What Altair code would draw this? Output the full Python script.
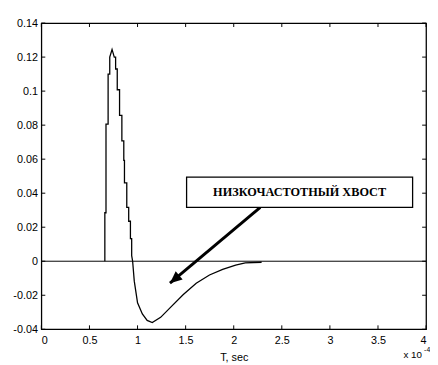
import altair as alt
import pandas as pd

# ---- data (time in units of 1e-4 s) ----
t_vals = [0.660, 0.660, 0.672, 0.672, 0.694, 0.694, 0.711, 0.711, 0.735, 0.758,
          0.772, 0.772, 0.789, 0.789, 0.813, 0.813, 0.837, 0.837, 0.857, 0.857,
          0.864, 0.864, 0.888, 0.888, 0.908, 0.908, 0.926, 0.926, 0.939, 0.939,
          0.949, 0.966, 1.000, 1.050, 1.100, 1.153, 1.240, 1.340, 1.476, 1.610,
          1.748, 1.885, 2.020, 2.120, 2.290]
s_vals = [0.0, 0.0285, 0.0285, 0.0806, 0.0806, 0.110, 0.110, 0.120, 0.1245, 0.120,
          0.120, 0.113, 0.113, 0.1008, 0.1008, 0.0858, 0.0858, 0.0708, 0.0708, 0.0593,
          0.0593, 0.046, 0.046, 0.0316, 0.0316, 0.0235, 0.0235, 0.0133, 0.0133, 0.0033,
          0.0, -0.0117, -0.0244, -0.031, -0.0348, -0.036, -0.033, -0.0273, -0.0196, -0.0129,
          -0.0081, -0.0048, -0.0023, -0.0010, -0.0006]

x_ticks = [0, 0.5, 1, 1.5, 2, 2.5, 3, 3.5, 4]
y_ticks = [-0.04, -0.02, 0, 0.02, 0.04, 0.06, 0.08, 0.1, 0.12, 0.14]

box_x = [1.51, 3.86]
box_y = [0.0316, 0.0495]
box_label = "НИЗКОЧАСТОТНЫЙ ХВОСТ"
arrow_from = [2.276, 0.0316]
arrow_to = [1.337, -0.0129]

x_title = "T, sec"
exp_base = "x 10"
exp_power = "-4"

W, H = 392, 312
FONT = "Liberation Sans"

xs = alt.Scale(domain=[0, 4], nice=False, zero=False)
ys = alt.Scale(domain=[-0.04, 0.14], nice=False, zero=False)

lbl = "replace(format(datum.value, '~g'), '\u2212', '-')"
x_axis = alt.Axis(values=x_ticks, title=x_title, ticks=False, domain=False, grid=False,
                  labelPadding=6, titlePadding=6, labelExpr=lbl)
y_axis = alt.Axis(values=y_ticks, title=None, ticks=False, domain=False, grid=False,
                  labelPadding=4, labelExpr=lbl)

curve_df = pd.DataFrame({"t": t_vals, "s": s_vals, "i": list(range(len(t_vals)))})
xt_df = pd.DataFrame({"v": x_ticks})
yt_df = pd.DataFrame({"v": y_ticks})

curve = alt.Chart(curve_df).mark_line(color="black", strokeWidth=1.3).encode(
    x=alt.X("t:Q", scale=xs, axis=x_axis),
    y=alt.Y("s:Q", scale=ys, axis=y_axis),
    order="i:Q",
)

zero_line = alt.Chart(pd.DataFrame({"z": [0.0]})).mark_rule(color="black", strokeWidth=1).encode(
    y=alt.Y("z:Q", scale=ys, axis=y_axis), x=alt.value(0), x2=alt.value(W)
)

tick_len = 4
bottom_ticks = alt.Chart(xt_df).mark_rule(color="black").encode(
    x=alt.X("v:Q", scale=xs, axis=x_axis), y=alt.value(H), y2=alt.value(H - tick_len))
top_ticks = alt.Chart(xt_df).mark_rule(color="black").encode(
    x=alt.X("v:Q", scale=xs, axis=x_axis), y=alt.value(0), y2=alt.value(tick_len))
left_ticks = alt.Chart(yt_df).mark_rule(color="black").encode(
    y=alt.Y("v:Q", scale=ys, axis=y_axis), x=alt.value(0), x2=alt.value(tick_len))
right_ticks = alt.Chart(yt_df).mark_rule(color="black").encode(
    y=alt.Y("v:Q", scale=ys, axis=y_axis), x=alt.value(W), x2=alt.value(W - tick_len))

box_df = pd.DataFrame({"x1": [box_x[0]], "x2": [box_x[1]], "y1": [box_y[0]], "y2": [box_y[1]],
                       "xc": [sum(box_x) / 2], "yc": [sum(box_y) / 2], "label": [box_label]})
box = alt.Chart(box_df).mark_rect(fill="white", stroke="black", strokeWidth=1.3).encode(
    x=alt.X("x1:Q", scale=xs, axis=x_axis), x2="x2:Q",
    y=alt.Y("y1:Q", scale=ys, axis=y_axis), y2="y2:Q")
box_text = alt.Chart(box_df).mark_text(font="Liberation Serif", fontSize=12.5, fontWeight="bold",
                                       color="black", align="center", baseline="middle").encode(
    x=alt.X("xc:Q", scale=xs, axis=x_axis), y=alt.Y("yc:Q", scale=ys, axis=y_axis), text="label:N")

arrow_df = pd.DataFrame({"x1": [arrow_from[0]], "y1": [arrow_from[1]],
                         "x2": [arrow_to[0]], "y2": [arrow_to[1]]})
shaft = alt.Chart(arrow_df).mark_rule(color="black", strokeWidth=3).encode(
    x=alt.X("x1:Q", scale=xs, axis=x_axis), y=alt.Y("y1:Q", scale=ys, axis=y_axis),
    x2="x2:Q", y2="y2:Q")
head = alt.Chart(arrow_df).mark_point(shape="M0,0 L-0.45,1 L0.45,1 Z", filled=True, color="black",
                                      opacity=1, size=600, angle=230).encode(
    x=alt.X("x2:Q", scale=xs, axis=x_axis), y=alt.Y("y2:Q", scale=ys, axis=y_axis))

exp1 = alt.Chart(pd.DataFrame({"a": [exp_base]})).mark_text(
    font=FONT, fontSize=10, align="left", baseline="alphabetic", color="black").encode(
    x=alt.value(369), y=alt.value(341), text="a:N")
exp2 = alt.Chart(pd.DataFrame({"a": [exp_power]})).mark_text(
    font=FONT, fontSize=7, align="left", baseline="alphabetic", color="black").encode(
    x=alt.value(390), y=alt.value(335), text="a:N")

chart = alt.layer(zero_line, curve, bottom_ticks, top_ticks, left_ticks, right_ticks,
                  shaft, head, box, box_text, exp1, exp2).properties(
    width=W, height=H,
    background="white",
    autosize=alt.AutoSizeParams(type="none"),
    padding={"left": 34, "top": 12, "right": 4, "bottom": 31},
).configure_view(stroke="black", strokeWidth=1.3).configure_axis(
    labelFont=FONT, labelFontSize=11, labelColor="black",
    titleFont=FONT, titleFontSize=11, titleFontWeight="normal", titleColor="black",
)

chart.save("out.html", embed_options={"renderer": "svg", "actions": False})
